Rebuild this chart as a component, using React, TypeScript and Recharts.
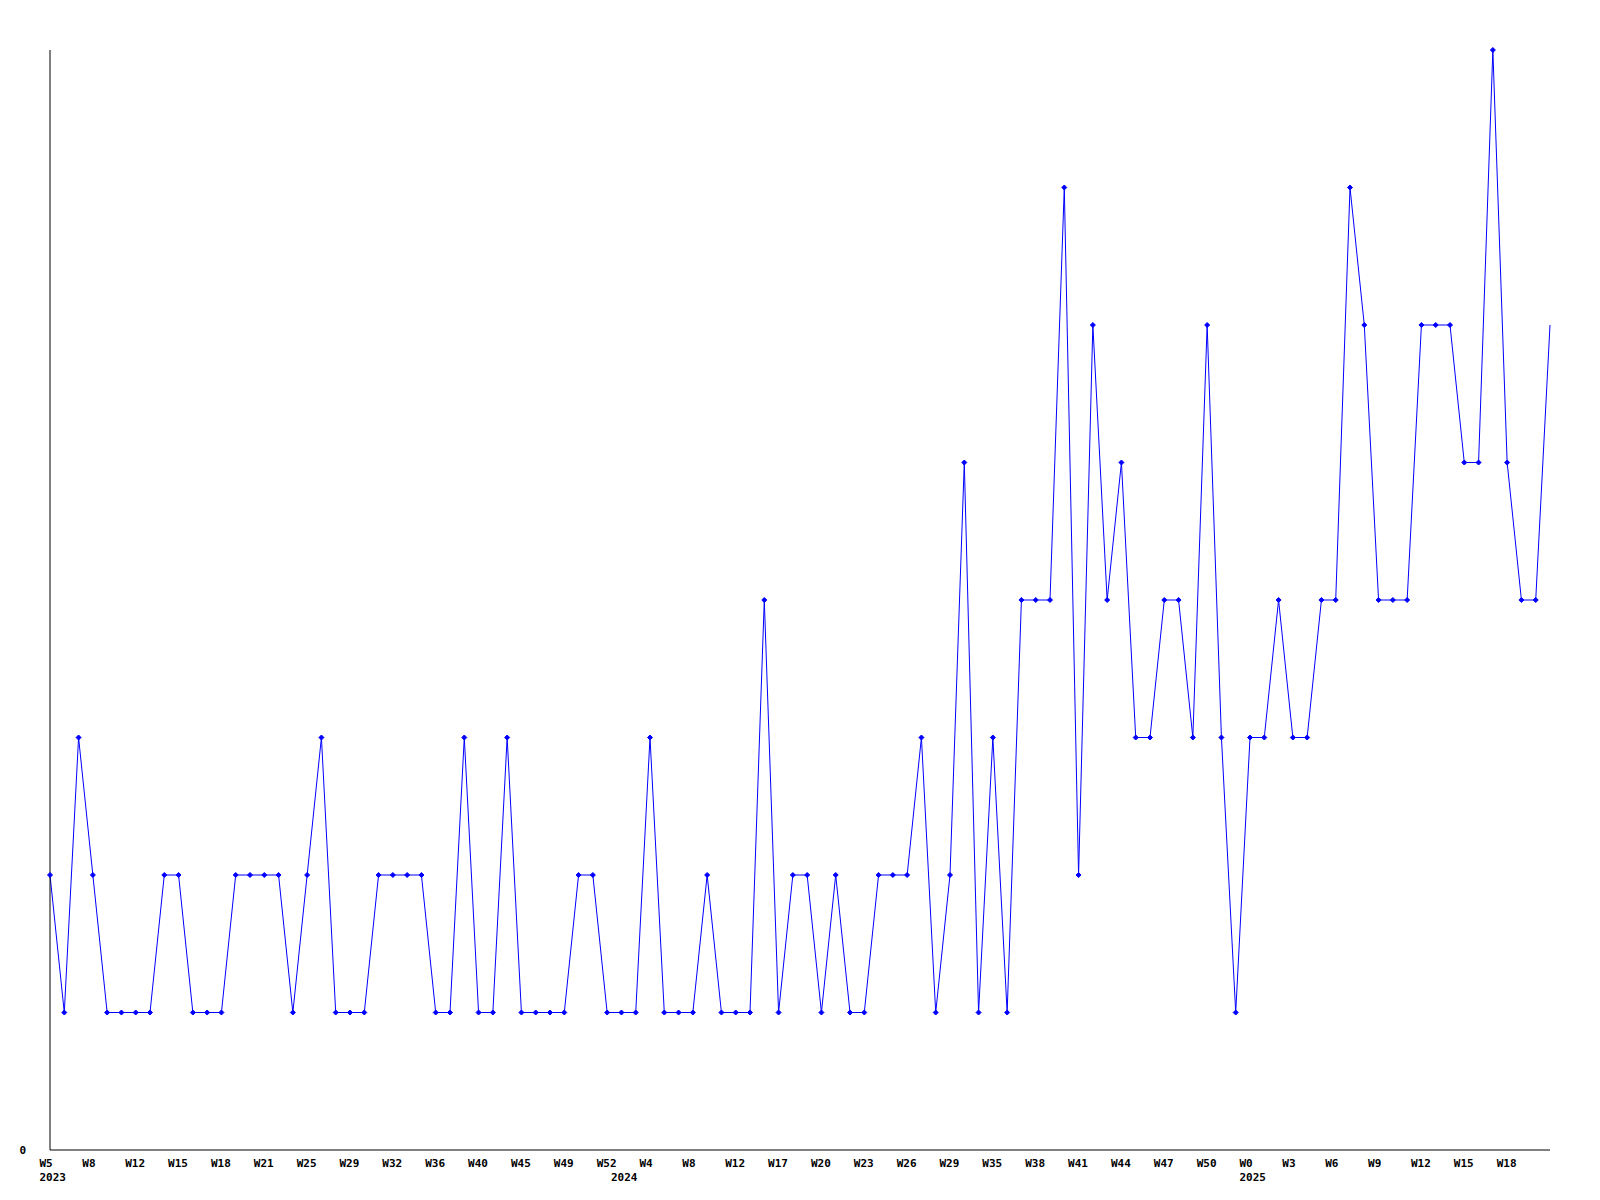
import { LineChart, Line, XAxis, YAxis } from "recharts"

// weekly counts (one point per period)
const values = [
  2, 1, 3, 2, 1, 1, 1, 1, 2, 2, 1, 1, 1, 2, 2, 2, 2, 1, 2, 3, 1, 1, 1, 2, 2, 2, 2,
  1, 1, 3, 1, 1, 3, 1, 1, 1, 1, 2, 2, 1, 1, 1, 3, 1, 1, 1, 2, 1, 1, 1, 4, 1, 2,
  2, 1, 2, 1, 1, 2, 2, 2, 3, 1, 2, 5, 1, 3, 1, 4, 4, 4,
  7, 2, 6, 4, 5, 3, 3, 4, 4, 3, 6, 3, 1, 3, 3, 4, 3, 3,
  4, 4, 7, 6, 4, 4, 4, 6, 6, 6, 5, 5, 8, 5, 4, 4, 6,
]

// a week label under every third point
const weekLabels = [
  "W5", "W8", "W12", "W15", "W18", "W21", "W25", "W29", "W32", "W36", "W40", "W45",
  "W49", "W52", "W4", "W8", "W12", "W17", "W20", "W23", "W26", "W29", "W35", "W38",
  "W41", "W44", "W47", "W50", "W0", "W3", "W6", "W9", "W12", "W15", "W18",
]

// year captions and the point they sit under
const yearAt = [0, 40, 84]
const yearLabels = ["2023", "2024", "2025"]

const yMax = 8
const yTicks = [0]

const FONT = "'DejaVu Sans Mono', monospace"

const data = values.map((v, i) => ({ idx: i, value: v }))

const XTick = (props: any) => {
  const { x, y, payload } = props
  const i = payload.value as number
  const week = i % 3 === 0 ? weekLabels[i / 3] : null
  const yi = yearAt.indexOf(i)
  return (
    <g>
      {week && (
        <text x={x - 10.5} y={y + 17} textAnchor="start" fontFamily={FONT} fontSize={11} fontWeight="bold" fill="#000">
          {week}
        </text>
      )}
      {yi >= 0 && (
        <text x={x - 10.5} y={y + 31} textAnchor="start" fontFamily={FONT} fontSize={11} fontWeight="bold" fill="#000">
          {yearLabels[yi]}
        </text>
      )}
    </g>
  )
}

const YTick = (props: any) => {
  const { x, y, payload } = props
  return (
    <text x={x - 24} y={y + 4} textAnchor="end" fontFamily={FONT} fontSize={11} fontWeight="bold" fill="#000">
      {payload.value}
    </text>
  )
}

const Marker = (props: any) => {
  const { cx, cy, index } = props
  if (index === values.length - 1) return <g key={`m-${index}`} />
  const r = 2.5
  return (
    <path
      key={`m-${index}`}
      d={`M${cx},${cy - r}L${cx + r},${cy}L${cx},${cy + r}L${cx - r},${cy}Z`}
      fill="#0000ff"
      stroke="#0000ff"
      strokeWidth={1}
    />
  )
}

export default function App() {
  return (
    <div style={{ position: "absolute", left: 0, top: 0, width: 1600, height: 1200, background: "#fff" }}>
      <LineChart width={1600} height={1200} data={data} margin={{ top: 50, right: 50, bottom: 0, left: 0 }}>
        <XAxis
          dataKey="idx"
          interval={0}
          tick={<XTick />}
          tickLine={false}
          tickSize={0}
          tickMargin={0}
          height={50}
          axisLine={{ stroke: "#000", strokeWidth: 1 }}
        />
        <YAxis
          domain={[0, yMax]}
          ticks={yTicks}
          tick={<YTick />}
          tickLine={false}
          tickSize={0}
          tickMargin={0}
          width={50}
          axisLine={{ stroke: "#000", strokeWidth: 1 }}
        />
        <Line
          type="linear"
          dataKey="value"
          stroke="#0000ff"
          strokeWidth={1}
          dot={Marker}
          activeDot={false}
          isAnimationActive={false}
        />
      </LineChart>
    </div>
  )
}
